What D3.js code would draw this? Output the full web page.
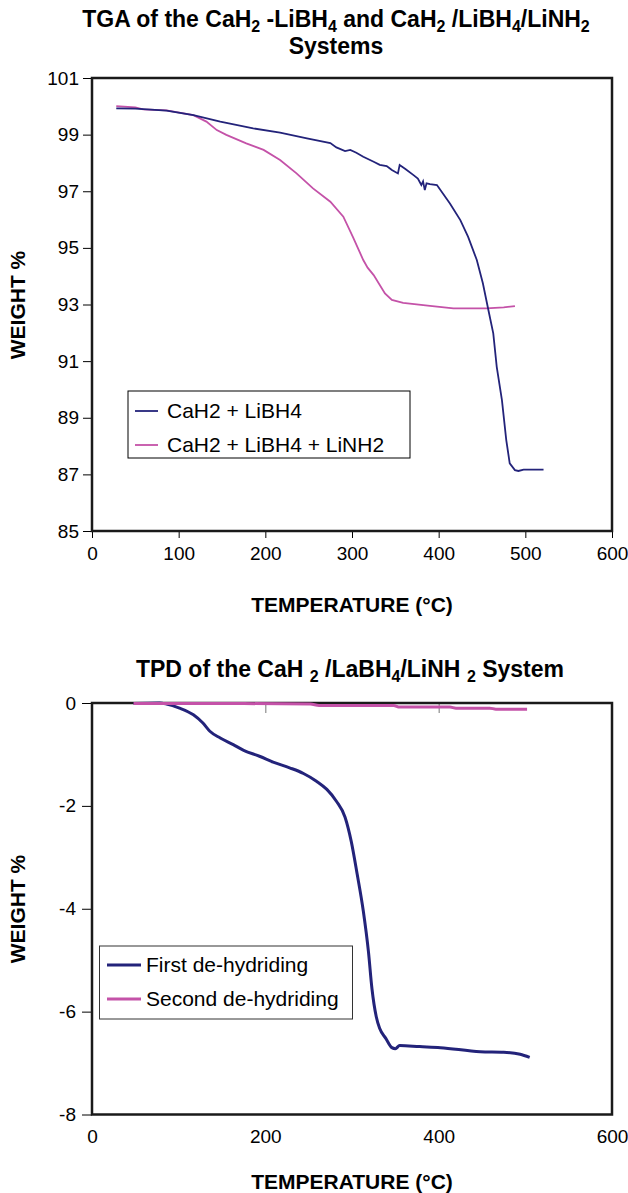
<!DOCTYPE html>
<html lang="en">
<head>
<meta charset="UTF-8">
<title>TGA / TPD</title>
<style>
    body{ margin:0; background:#fff; }
    svg{ background:#fff; display:block; }
    text{ font-family: "Liberation Sans", Arial, sans-serif; fill:#000; }
    .title{ font-weight:bold; font-size:23px; }
    .axis-title{ font-weight:bold; font-size:21px; }
    .tick text{ font-size:19px; }
</style>
</head>
<body>
<div id="chart"></div>
<script src="https://cdnjs.cloudflare.com/ajax/libs/d3/7.8.5/d3.min.js"></script>
<script>
// ---- data: TGA (top chart) ----
var tgaTemp1 = [28, 50, 86, 117, 148, 186, 217, 248, 275, 282, 292, 298, 305, 313, 325, 332, 340, 343, 346, 353, 355, 362, 371, 376, 380, 382, 384, 386, 390, 398, 413, 425, 434, 444, 451, 457, 463, 467, 473, 478, 482, 488, 492, 498, 521];
var tgaWeight1 = [99.93, 99.92, 99.85, 99.69, 99.46, 99.22, 99.07, 98.87, 98.70, 98.55, 98.42, 98.46, 98.36, 98.22, 98.04, 97.93, 97.89, 97.82, 97.75, 97.63, 97.93, 97.78, 97.57, 97.45, 97.22, 97.35, 97.04, 97.28, 97.25, 97.22, 96.57, 95.98, 95.39, 94.57, 93.75, 92.86, 91.98, 90.80, 89.62, 88.21, 87.39, 87.15, 87.12, 87.17, 87.17];
var tgaTemp2 = [28, 50, 59, 86, 117, 132, 144, 155, 178, 198, 217, 236, 255, 275, 290, 301, 313, 318, 325, 338, 346, 359, 390, 417, 455, 475, 488];
var tgaWeight2 = [100.01, 99.96, 99.89, 99.86, 99.69, 99.46, 99.16, 98.99, 98.69, 98.46, 98.10, 97.63, 97.10, 96.63, 96.10, 95.39, 94.57, 94.30, 94.04, 93.39, 93.16, 93.06, 92.95, 92.86, 92.86, 92.90, 92.94];
var tgaSeries = ["CaH2 + LiBH4", "CaH2 + LiBH4 + LiNH2"];
var tgaYTicks = [85, 87, 89, 91, 93, 95, 97, 99, 101];
var tgaXTicks = [0, 100, 200, 300, 400, 500, 600];

// ---- data: TPD (bottom chart) ----
var tpdTemp1 = [48, 78, 86, 101, 117, 128, 136, 148, 163, 175, 194, 209, 228, 244, 259, 271, 282, 292, 299, 306, 313, 319, 323, 328, 332, 339, 346, 350, 355, 378, 402, 448, 475, 494, 505];
var tpdWeight1 = [-0.01, 0, -0.02, -0.10, -0.23, -0.39, -0.55, -0.68, -0.81, -0.92, -1.04, -1.15, -1.26, -1.37, -1.52, -1.68, -1.91, -2.22, -2.68, -3.33, -4.04, -4.84, -5.55, -6.10, -6.33, -6.52, -6.70, -6.72, -6.66, -6.68, -6.70, -6.78, -6.79, -6.83, -6.89];
var tpdTemp2 = [48, 150, 252, 262, 348, 355, 413, 420, 459, 466, 502];
var tpdWeight2 = [-0.01, -0.01, -0.02, -0.05, -0.05, -0.08, -0.08, -0.10, -0.10, -0.12, -0.12];
var tpdSeries = ["First de-hydriding", "Second de-hydriding"];
var tpdYTicks = [-8, -6, -4, -2, 0];
var tpdXTicks = [0, 200, 400, 600];

var colors = ["#23237a", "#c452a8"];
var width = 628, height = 1193;

var svg = d3.select('#chart')
    .append('svg')
    .attr('width', width)
    .attr('height', height);

// plain hyphen minus like the original, not d3's unicode minus
var fmt = function(d){ return String(d); };

function zip(xs, ys) {
    return xs.map(function(x, i){ return [x, ys[i]]; });
}

// title with subscripts: parts = [[text, isSub], ...]
function richTitle(x, y, parts) {
    var t = svg.append('text')
        .attr('class', 'title')
        .attr('x', x)
        .attr('y', y)
        .attr('text-anchor', 'middle');
    var last = false;
    parts.forEach(function(p){
        var sp = t.append('tspan').text(p[0]);
        if (p[1]) sp.attr('font-size', '16px');
        sp.attr('dy', p[1] ? (last ? 0 : 5) : (last ? -5 : 0));
        last = p[1];
    });
    return t;
}

// ================= TOP CHART =================
var x1 = d3.scaleLinear().domain([0, 600]).range([92, 612]);
var y1 = d3.scaleLinear().domain([85, 101]).range([531, 78]);

richTitle(336, 27, [["TGA of the CaH", false], ["2", true], [" -LiBH", false], ["4", true],
    [" and CaH", false], ["2", true], [" /LiBH", false], ["4", true], ["/LiNH", false], ["2", true]]);
svg.append('text').attr('class', 'title').attr('x', 336).attr('y', 54)
    .attr('text-anchor', 'middle').text('Systems');

svg.append('g')
    .attr('transform', 'translate(0,531)')
    .call(d3.axisBottom(x1).tickValues(tgaXTicks).tickSize(7).tickPadding(9).tickFormat(fmt))
    .call(function(g){ g.select('.domain').remove(); });

svg.append('g')
    .attr('transform', 'translate(92,0)')
    .call(d3.axisLeft(y1).tickValues(tgaYTicks).tickSize(9).tickPadding(4).tickFormat(fmt))
    .call(function(g){ g.select('.domain').remove(); });

svg.append('rect')
    .attr('x', 92).attr('y', 78)
    .attr('width', 520).attr('height', 453)
    .attr('fill', 'none').attr('stroke', '#1a1a1a').attr('stroke-width', 2.5);

var line1 = d3.line()
    .x(function(d){ return x1(d[0]); })
    .y(function(d){ return y1(d[1]); });

svg.append('path').datum(zip(tgaTemp2, tgaWeight2))
    .attr('fill', 'none').attr('stroke', colors[1]).attr('stroke-width', 1.8)
    .attr('d', line1);
svg.append('path').datum(zip(tgaTemp1, tgaWeight1))
    .attr('fill', 'none').attr('stroke', colors[0]).attr('stroke-width', 1.8)
    .attr('d', line1);

svg.append('text').attr('class', 'axis-title')
    .attr('transform', 'translate(25,305) rotate(-90)')
    .attr('text-anchor', 'middle').text('WEIGHT %');
svg.append('text').attr('class', 'axis-title')
    .attr('x', 352).attr('y', 612)
    .attr('text-anchor', 'middle').text('TEMPERATURE (°C)');

// legend
var lg1 = svg.append('g');
lg1.append('rect').attr('x', 128).attr('y', 391).attr('width', 282).attr('height', 67)
    .attr('fill', '#fff').attr('stroke', '#000').attr('stroke-width', 1);
tgaSeries.forEach(function(s, i){
    var yy = 411 + i * 34;
    lg1.append('line').attr('x1', 135).attr('x2', 158).attr('y1', yy).attr('y2', yy)
        .attr('stroke', colors[i]).attr('stroke-width', 1.8);
    lg1.append('text').attr('x', 167).attr('y', yy + 7).attr('font-size', '21px').text(s);
});

// ================= BOTTOM CHART =================
var x2 = d3.scaleLinear().domain([0, 600]).range([92, 612]);
var y2 = d3.scaleLinear().domain([-8, 0]).range([1114.5, 703]);

richTitle(350, 677, [["TPD of the CaH ", false], ["2", true], [" /LaBH", false], ["4", true],
    ["/LiNH ", false], ["2", true], ["  System", false]]);

svg.append('g')
    .attr('transform', 'translate(0,1114.5)')
    .call(d3.axisBottom(x2).tickValues(tpdXTicks).tickSize(0).tickPadding(15).tickFormat(fmt))
    .call(function(g){ g.select('.domain').remove(); });

// ticks on the zero line
svg.append('g')
    .attr('transform', 'translate(0,' + y2(0) + ')')
    .call(d3.axisBottom(x2).tickValues(tpdXTicks).tickSize(10).tickFormat(''))
    .call(function(g){ g.select('.domain').remove(); g.selectAll('line').attr('stroke', '#777'); });

svg.append('g')
    .attr('transform', 'translate(92,0)')
    .call(d3.axisLeft(y2).tickValues(tpdYTicks).tickSize(10).tickPadding(6).tickFormat(fmt))
    .call(function(g){ g.select('.domain').remove(); });

svg.append('rect')
    .attr('x', 92).attr('y', 703)
    .attr('width', 520).attr('height', 411.5)
    .attr('fill', 'none').attr('stroke', '#1a1a1a').attr('stroke-width', 2.5);

var line2 = d3.line()
    .curve(d3.curveMonotoneX)
    .x(function(d){ return x2(d[0]); })
    .y(function(d){ return y2(d[1]); });

svg.append('path').datum(zip(tpdTemp1, tpdWeight1))
    .attr('fill', 'none').attr('stroke', colors[0]).attr('stroke-width', 3)
    .attr('d', line2);
svg.append('path').datum(zip(tpdTemp2, tpdWeight2))
    .attr('fill', 'none').attr('stroke', colors[1]).attr('stroke-width', 3)
    .attr('d', line2);

svg.append('text').attr('class', 'axis-title')
    .attr('transform', 'translate(25,909) rotate(-90)')
    .attr('text-anchor', 'middle').text('WEIGHT %');
svg.append('text').attr('class', 'axis-title')
    .attr('x', 352).attr('y', 1189)
    .attr('text-anchor', 'middle').text('TEMPERATURE (°C)');

var lg2 = svg.append('g');
lg2.append('rect').attr('x', 99.5).attr('y', 946).attr('width', 253).attr('height', 73)
    .attr('fill', '#fff').attr('stroke', '#333').attr('stroke-width', 1);
tpdSeries.forEach(function(s, i){
    var yy = 965 + i * 34;
    lg2.append('line').attr('x1', 107).attr('x2', 141).attr('y1', yy).attr('y2', yy)
        .attr('stroke', colors[i]).attr('stroke-width', 3);
    lg2.append('text').attr('x', 146).attr('y', yy + 7).attr('font-size', '21px').text(s);
});
</script>
</body>
</html>
